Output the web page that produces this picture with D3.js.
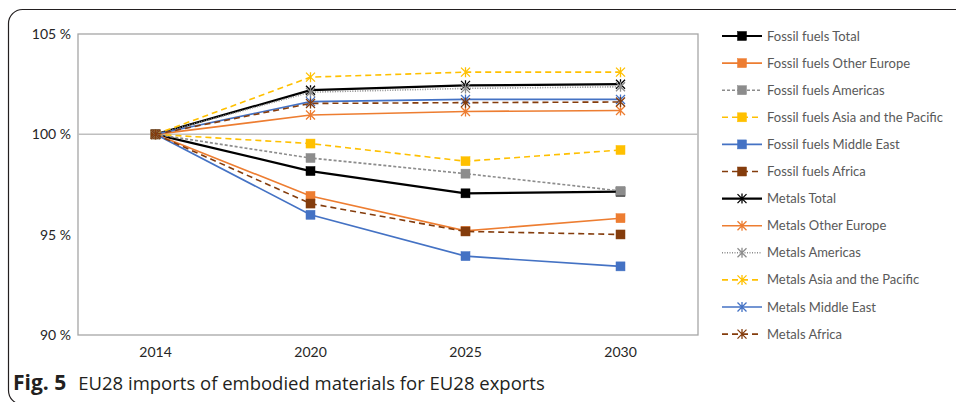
<!DOCTYPE html>
<html><head><meta charset="utf-8">
<script src="https://cdn.jsdelivr.net/npm/d3@7"></script>
<style>body{margin:0;background:#fff}svg{display:block}</style>
</head><body>
<svg id="c" width="956" height="402"></svg>
<script>
const years = ["2014","2020","2025","2030"];
const yTicks = [90,95,100,105];
const seriesNames = [
  "Fossil fuels Total","Fossil fuels Other Europe","Fossil fuels Americas",
  "Fossil fuels Asia and the Pacific","Fossil fuels Middle East","Fossil fuels Africa",
  "Metals Total","Metals Other Europe","Metals Americas",
  "Metals Asia and the Pacific","Metals Middle East","Metals Africa"];
const ffTotal        = [100, 98.17, 97.06, 97.14];
const ffOtherEurope  = [100, 96.93, 95.19, 95.82];
const ffAmericas     = [100, 98.82, 98.04, 97.18];
const ffAsiaPacific  = [100, 99.54, 98.66, 99.22];
const ffMiddleEast   = [100, 95.99, 93.93, 93.42];
const ffAfrica       = [100, 96.55, 95.16, 95.01];
const mTotal         = [100, 102.20, 102.44, 102.50];
const mOtherEurope   = [100, 100.96, 101.14, 101.19];
const mAmericas      = [100, 102.10, 102.29, 102.37];
const mAsiaPacific   = [100, 102.85, 103.10, 103.10];
const mMiddleEast    = [100, 101.63, 101.74, 101.74];
const mAfrica        = [100, 101.54, 101.58, 101.61];
const captionLabel = "Fig. 5";
const caption = "EU28 imports of embodied materials for EU28 exports";

const values = [ffTotal, ffOtherEurope, ffAmericas, ffAsiaPacific, ffMiddleEast, ffAfrica,
                mTotal, mOtherEurope, mAmericas, mAsiaPacific, mMiddleEast, mAfrica];
const colors = ["#000000","#ED7D31","#8C8C8C","#FFC000","#4472C4","#843C0C"];
const dashes = ["none","none","3,2","6,4","none","6,4"];
const mDashes = ["none","none","1,1.5","6,4","none","6,4"];
const styles = values.map((v,i)=>{
  const k = i%6, metal = i>=6;
  return {name: seriesNames[i], vals: v, color: colors[k],
    dash: metal ? mDashes[k] : dashes[k],
    width: k===0 ? 2.2 : 1.6,
    marker: metal ? "star" : "square"};
});

const svg = d3.select("#c");
const font = "Lato, 'Open Sans', sans-serif";

// outer frame
svg.append("rect").attr("x",8.5).attr("y",9.5).attr("width",1100).attr("height",395)
  .attr("rx",14).attr("fill","none").attr("stroke","#231f20").attr("stroke-width",1.2);

const L=78, R=698, T=34, B=335;
const x = d3.scaleBand().domain(years).range([L,R]);
const y = d3.scaleLinear().domain([90,105]).range([B,T]);
const cx = d => x(d)+x.bandwidth()/2;

// plot frame
svg.append("rect").attr("x",L).attr("y",T).attr("width",R-L).attr("height",B-T)
  .attr("fill","none").attr("stroke","#A6A6A6").attr("stroke-width",1.3);
svg.append("line").attr("x1",L).attr("x2",R).attr("y1",y(100)).attr("y2",y(100))
  .attr("stroke","#BFBFBF").attr("stroke-width",1.5);

// axes
const yAxis = d3.axisLeft(y).tickValues(yTicks).tickSize(0).tickPadding(7).tickFormat(d=>d+" %");
const gy = svg.append("g").attr("transform",`translate(${L},0)`).call(yAxis);
gy.select(".domain").remove();
gy.selectAll("text").attr("font-family",font).attr("font-size",14).attr("fill","#262626");
const xAxis = d3.axisBottom(x).tickSize(0).tickPadding(12);
const gx = svg.append("g").attr("transform",`translate(0,${B})`).call(xAxis);
gx.select(".domain").remove();
gx.selectAll("text").attr("font-family",font).attr("font-size",14).attr("fill","#262626");

const line = d3.line().x((d,i)=>cx(years[i])).y(d=>y(d));

function marker(g, type, color, px, py){
  if(type==="square"){
    g.append("rect").attr("x",px-4.5).attr("y",py-4.5).attr("width",9).attr("height",9)
      .attr("fill",color).attr("stroke",color).attr("stroke-width",0.5);
  } else {
    const s=4.5;
    g.append("path").attr("d",`M${px-s},${py-s}L${px+s},${py+s}M${px-s},${py+s}L${px+s},${py-s}M${px},${py-s-0.5}L${px},${py+s+0.5}`)
      .attr("stroke",color).attr("stroke-width",1.3).attr("fill","none");
  }
}

styles.forEach(s=>{
  const g = svg.append("g");
  g.append("path").attr("d",line(s.vals)).attr("fill","none").attr("stroke",s.color)
    .attr("stroke-width",s.width).attr("stroke-dasharray",s.dash);
  s.vals.forEach((v,i)=>marker(g,s.marker,s.color,cx(years[i]),y(v)));
});

// legend
const lg = svg.append("g");
styles.forEach((s,i)=>{
  const ly = 36 + i*27.1;
  const g = lg.append("g");
  g.append("line").attr("x1",722).attr("x2",762).attr("y1",ly).attr("y2",ly)
    .attr("stroke",s.color).attr("stroke-width",s.width).attr("stroke-dasharray",s.dash);
  marker(g,s.marker,s.color,742,ly);
  g.append("text").attr("x",767).attr("y",ly).attr("dy","0.35em").attr("font-family",font)
    .attr("font-size",13).attr("fill","#595959").text(s.name);
});

// caption
const cap = svg.append("text").attr("x",13).attr("y",390).attr("font-family","'Open Sans', sans-serif")
  .attr("font-size",18.5).attr("fill","#231f20");
cap.append("tspan").attr("font-weight","bold").attr("font-size",21).text(captionLabel);
cap.append("tspan").attr("dx",12).text(caption);
</script>
</body></html>
